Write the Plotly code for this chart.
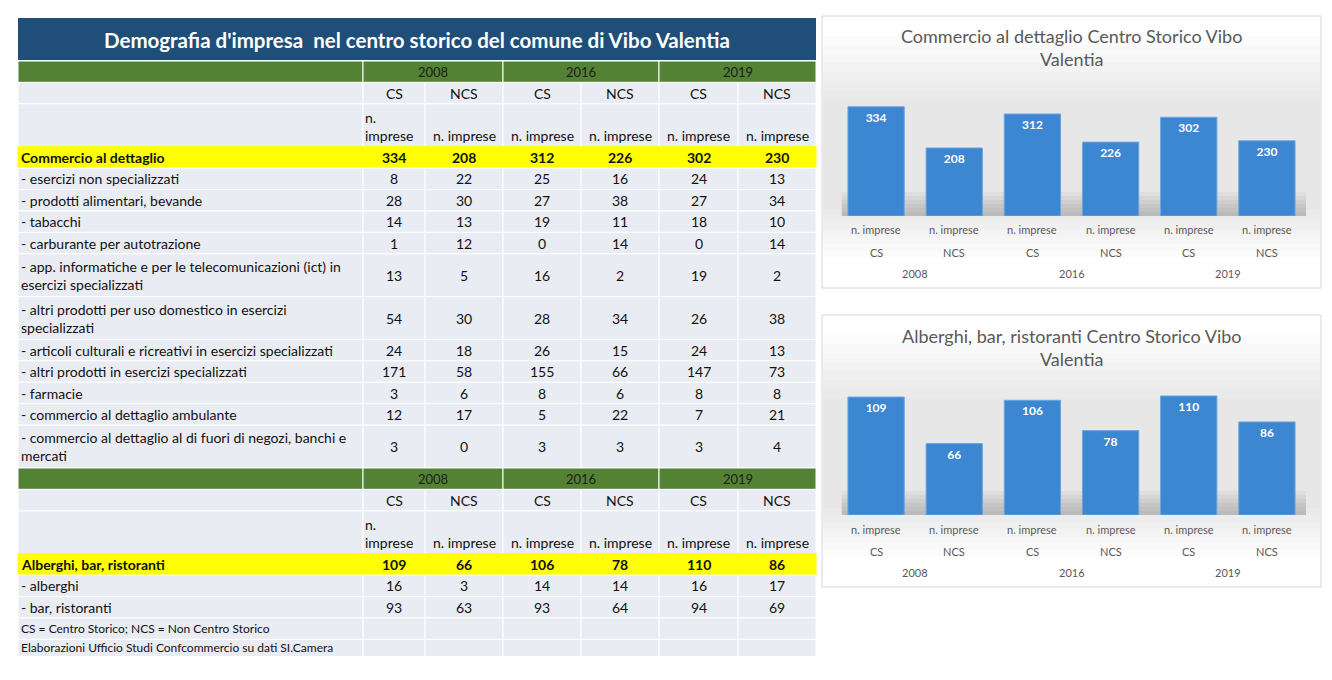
"""
Demografia d'impresa nel centro storico di Vibo Valentia - table + two bar charts.
"""

import plotly.graph_objects as go

# ----------------------------------------------------------------------
# Data
# ----------------------------------------------------------------------

YEARS = ["2008", "2016", "2019"]
ZONES = ["CS", "NCS"]
UNIT = "n. imprese"

TABLE_TITLE = "Demografia d'impresa  nel centro storico del comune di Vibo Valentia"

RETAIL_LABEL = "Commercio al dettaglio"
RETAIL_TOTAL = [334, 208, 312, 226, 302, 230]
RETAIL_ITEMS = [
    "- esercizi non specializzati",
    "- prodotti alimentari, bevande",
    "- tabacchi",
    "- carburante per autotrazione",
    "- app. informatiche e per le telecomunicazioni (ict) in<br>esercizi specializzati",
    "- altri prodotti per uso domestico in esercizi<br>specializzati",
    "- articoli culturali e ricreativi in esercizi specializzati",
    "- altri prodotti in esercizi specializzati",
    "- farmacie",
    "- commercio al dettaglio ambulante",
    "- commercio al dettaglio al di fuori di negozi, banchi e<br>mercati",
]
RETAIL_VALUES = [
    [8, 22, 25, 16, 24, 13],
    [28, 30, 27, 38, 27, 34],
    [14, 13, 19, 11, 18, 10],
    [1, 12, 0, 14, 0, 14],
    [13, 5, 16, 2, 19, 2],
    [54, 30, 28, 34, 26, 38],
    [24, 18, 26, 15, 24, 13],
    [171, 58, 155, 66, 147, 73],
    [3, 6, 8, 6, 8, 8],
    [12, 17, 5, 22, 7, 21],
    [3, 0, 3, 3, 3, 4],
]

HOSPITALITY_LABEL = "Alberghi, bar, ristoranti"
HOSPITALITY_TOTAL = [109, 66, 106, 78, 110, 86]
HOSPITALITY_ITEMS = ["- alberghi", "- bar, ristoranti"]
HOSPITALITY_VALUES = [
    [16, 3, 14, 14, 16, 17],
    [93, 63, 93, 64, 94, 69],
]

NOTES = [
    "CS = Centro Storico; NCS = Non Centro Storico",
    "Elaborazioni Ufficio Studi Confcommercio su dati SI.Camera",
]

CHART_TITLES = [
    "Commercio al dettaglio Centro Storico Vibo<br>Valentia",
    "Alberghi, bar, ristoranti Centro Storico Vibo<br>Valentia",
]

# ----------------------------------------------------------------------
# Style / geometry (positions are page pixels; the page body has an 8px margin)
# ----------------------------------------------------------------------

OFF = 8
W, H = 1332 - OFF, 680 - OFF
FONT = "Lato, Open Sans, sans-serif"
CHART_FONT = "Lato, Open Sans, sans-serif"

BLUE_DARK = "#1f4e79"
GREEN = "#548235"
YELLOW = "#ffff00"
CELL = "#e9ecf3"
BAR = "#3d86d2"
GREY_TXT = "#595959"
TXT = "#111111"

COL_EDGES = [18, 363, 425, 503, 581, 659, 738, 816]
ROW_H = 21.42
TABLE_TOP = 61

categories = [f"{y} {z}" for y in YEARS for z in ZONES]

fig = go.Figure()
shapes = []
annotations = []


def px(pix):
    return (pix - OFF) / W


def py(pix):
    return 1 - (pix - OFF) / H


# ----------------------------------------------------------------------
# Table (drawn on a pixel-scaled hidden axis pair x3/y3)
# ----------------------------------------------------------------------

def cell(x0, x1, y0, y1, fill, line="white"):
    shapes.append(dict(type="rect", xref="x3", yref="y3", x0=x0, x1=x1,
                       y0=y0, y1=y1, fillcolor=fill, layer="below",
                       line=dict(color=line, width=1)))


def text(x, y, s, size=14, color=TXT, xanchor="center", yanchor="middle",
         bold=False, family=FONT):
    if bold:
        s = f"<b>{s}</b>"
    annotations.append(dict(xref="x3", yref="y3", x=x, y=y, text=s,
                            showarrow=False, xanchor=xanchor, yanchor=yanchor,
                            align="left" if xanchor == "left" else "center",
                            font=dict(family=family, size=size, color=color)))


def data_row(top, nlines, label, values, fill=CELL, bold=False, line="white",
             size=14):
    bottom = top + nlines * ROW_H
    mid = (top + bottom) / 2
    cell(COL_EDGES[0], COL_EDGES[1], top, bottom, fill, line)
    if label:
        text(COL_EDGES[0] + 1, mid, label, size=size, xanchor="left", bold=bold)
    for i in range(6):
        cell(COL_EDGES[i + 1], COL_EDGES[i + 2], top, bottom, fill, line)
        if values is not None:
            text((COL_EDGES[i + 1] + COL_EDGES[i + 2]) / 2, mid, values[i],
                 bold=bold)
    return bottom


def section(top, label, totals, items, item_values):
    # year header
    bottom = top + ROW_H
    cell(COL_EDGES[0], COL_EDGES[1], top, bottom, GREEN)
    for k, year in enumerate(YEARS):
        x0, x1 = COL_EDGES[1 + 2 * k], COL_EDGES[3 + 2 * k]
        cell(x0, x1, top, bottom, GREEN)
        text((x0 + x1) / 2, (top + bottom) / 2, year, size=13, color="#1c1c1c")
    top = bottom
    # zone row
    top = data_row(top, 1, None, ZONES * 3)
    # unit row
    bottom = top + 2 * ROW_H
    data_row(top, 2, None, None)
    text(COL_EDGES[1], bottom - 1, "n.<br>imprese", xanchor="left",
         yanchor="bottom")
    for i in range(1, 6):
        text((COL_EDGES[i + 1] + COL_EDGES[i + 2]) / 2, bottom - 1, UNIT,
             yanchor="bottom")
    top = bottom
    # total row
    top = data_row(top, 1, label, totals, fill=YELLOW, bold=True, line=YELLOW)
    for name, vals in zip(items, item_values):
        top = data_row(top, name.count("<br>") + 1, name, vals)
    return top


shapes.append(dict(type="rect", xref="x3", yref="y3", x0=COL_EDGES[0],
                   x1=COL_EDGES[-1], y0=18, y1=60, fillcolor=BLUE_DARK,
                   line=dict(width=0), layer="below"))
text((COL_EDGES[0] + COL_EDGES[-1]) / 2, 39.5, TABLE_TITLE, size=20.5,
     color="white", bold=True)

y = section(TABLE_TOP, RETAIL_LABEL, RETAIL_TOTAL, RETAIL_ITEMS, RETAIL_VALUES)
y = section(y, HOSPITALITY_LABEL, HOSPITALITY_TOTAL, HOSPITALITY_ITEMS,
            HOSPITALITY_VALUES)
y = data_row(y, 1, NOTES[0], None, size=12)
data_row(y, 0.8, NOTES[1], None, size=12)

fig.add_trace(go.Scatter(x=[], y=[], xaxis="x3", yaxis="y3", showlegend=False))

# ----------------------------------------------------------------------
# Bar charts
# ----------------------------------------------------------------------

charts = [
    dict(values=RETAIL_TOTAL, box=(822, 16, 1321, 288), base=216, top=95,
         scale=0.327, title_y=47),
    dict(values=HOSPITALITY_TOTAL, box=(822, 315, 1321, 587), base=515,
         top=385, scale=1.082, title_y=347),
]

for n, ch in enumerate(charts):
    xa = "x" if n == 0 else "x2"
    ya = "y" if n == 0 else "y2"
    bx0, by0, bx1, by1 = ch["box"]

    # panel with a soft grey middle
    shapes.append(dict(type="rect", xref="paper", yref="paper",
                       x0=px(bx0), x1=px(bx1), y0=py(by1), y1=py(by0),
                       fillcolor="white", line=dict(color="#d6d6d6", width=1),
                       layer="below"))
    for k in range(8):
        shapes.append(dict(type="rect", xref="paper", yref="paper",
                           x0=px(bx0 + 1), x1=px(bx1 - 1),
                           y0=py(by1 - 30 - 7 * k), y1=py(by0 + 20 + 9 * k),
                           fillcolor="rgba(0,0,0,0.011)", line=dict(width=0),
                           layer="below"))
    # floor shadow behind the bars
    for k in range(1, 7):
        shapes.append(dict(type="rect", xref=f"{xa} domain", yref=ya,
                           x0=0.01, x1=1.0, y0=0, y1=k * 4 / ch["scale"],
                           fillcolor="rgba(0,0,0,0.035)", line=dict(width=0),
                           layer="below"))

    fig.add_trace(go.Bar(
        x=categories, y=ch["values"], xaxis=xa, yaxis=ya,
        marker=dict(color=BAR, line=dict(color="#6aa6e0", width=1)),
        texttemplate="<b>%{y}</b>", textposition="inside",
        insidetextanchor="end", textangle=0,
        textfont=dict(family=CHART_FONT, size=12, color="white"),
        showlegend=False,
    ))

    fig.layout[f"xaxis{'' if n == 0 else '2'}"] = dict(
        domain=[px(837), px(1306)], anchor=ya, showticklabels=False,
        showgrid=False, zeroline=False, showline=False, ticks="",
        fixedrange=True)
    fig.layout[f"yaxis{'' if n == 0 else '2'}"] = dict(
        domain=[py(ch["base"]), py(ch["top"])], anchor=xa,
        range=[0, (ch["base"] - ch["top"]) / ch["scale"]], visible=False,
        fixedrange=True)

    lab_font = dict(family=CHART_FONT, size=11, color=GREY_TXT)
    for i, cat in enumerate(categories):
        annotations.append(dict(xref=xa, yref="paper", x=cat,
                                y=py(ch["base"] + 14), text=UNIT,
                                xanchor="center", yanchor="middle",
                                showarrow=False, font=lab_font))
        annotations.append(dict(xref=xa, yref="paper", x=cat,
                                y=py(ch["base"] + 36), text=ZONES[i % 2],
                                xanchor="center", yanchor="middle",
                                showarrow=False, font=lab_font))
    for k, year in enumerate(YEARS):
        annotations.append(dict(xref=xa, yref="paper", x=2 * k + 0.5,
                                y=py(ch["base"] + 57), text=year,
                                xanchor="center", yanchor="middle",
                                showarrow=False, font=lab_font))

    annotations.append(dict(xref="paper", yref="paper", x=px((bx0 + bx1) / 2),
                            y=py(ch["title_y"]), text=CHART_TITLES[n],
                            xanchor="center", yanchor="middle",
                            showarrow=False,
                            font=dict(family=CHART_FONT, size=18,
                                      color=GREY_TXT)))

fig.update_layout(
    width=W, height=H,
    margin=dict(l=0, r=0, t=0, b=0),
    paper_bgcolor="white", plot_bgcolor="rgba(0,0,0,0)",
    bargap=0.28,
    xaxis3=dict(domain=[0, 1], range=[OFF, OFF + W], anchor="y3",
                visible=False, fixedrange=True),
    yaxis3=dict(domain=[0, 1], range=[OFF + H, OFF], anchor="x3",
                visible=False, fixedrange=True),
    shapes=shapes,
    annotations=annotations,
)

fig.write_html("out.html")
